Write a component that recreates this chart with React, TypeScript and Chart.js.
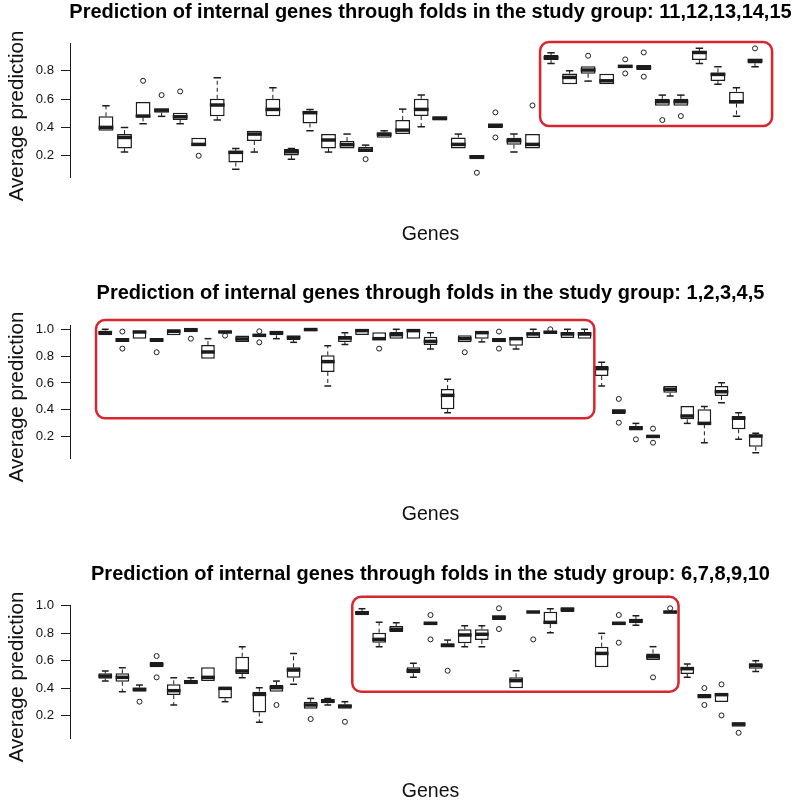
import React, { useEffect, useRef } from "react";
import { Chart, registerables } from "chart.js";

Chart.register(...registerables);

const FONT = "'Liberation Sans', Arial, Helvetica, sans-serif";
const INK = "#1c1c1c";
const RED = "#d8262f";

// ---------- Panel 1: study group 11,12,13,14,15 ----------
const p1Title = "Prediction of internal genes through folds in the study group: 11,12,13,14,15";
const p1Min = [0.376, 0.226, 0.426, 0.478, 0.426, 0.268, 0.452, 0.104, 0.226, 0.478, 0.176, 0.376, 0.226, 0.252, 0.226, 0.327, 0.353, 0.405, 0.449, 0.252, 0.176, 0.395, 0.226, 0.252, 0.852, 0.704, 0.727, 0.704, 0.819, 0.805, 0.553, 0.553, 0.852, 0.704, 0.478, 0.828];
const p1Q1 = [0.376, 0.252, 0.471, 0.504, 0.452, 0.268, 0.478, 0.153, 0.304, 0.478, 0.202, 0.428, 0.252, 0.252, 0.226, 0.327, 0.353, 0.48, 0.449, 0.252, 0.176, 0.395, 0.278, 0.252, 0.875, 0.704, 0.779, 0.704, 0.819, 0.805, 0.553, 0.553, 0.875, 0.727, 0.569, 0.852];
const p1Med = [0.4, 0.329, 0.48, 0.522, 0.475, 0.28, 0.558, 0.224, 0.353, 0.527, 0.228, 0.504, 0.311, 0.278, 0.24, 0.351, 0.381, 0.527, 0.464, 0.28, 0.193, 0.414, 0.306, 0.28, 0.892, 0.753, 0.805, 0.729, 0.831, 0.824, 0.581, 0.581, 0.929, 0.774, 0.581, 0.871];
const p1Q3 = [0.478, 0.353, 0.579, 0.534, 0.504, 0.327, 0.602, 0.235, 0.376, 0.602, 0.247, 0.515, 0.353, 0.304, 0.264, 0.365, 0.452, 0.602, 0.478, 0.329, 0.205, 0.428, 0.327, 0.353, 0.911, 0.781, 0.831, 0.779, 0.84, 0.84, 0.602, 0.602, 0.939, 0.788, 0.652, 0.887];
const p1Max = [0.553, 0.4, 0.579, 0.534, 0.504, 0.327, 0.75, 0.252, 0.376, 0.68, 0.252, 0.527, 0.353, 0.353, 0.275, 0.376, 0.529, 0.628, 0.478, 0.353, 0.205, 0.428, 0.353, 0.353, 0.927, 0.8, 0.831, 0.779, 0.84, 0.84, 0.628, 0.628, 0.958, 0.828, 0.68, 0.887];
const p1Out = [[], [], [0.729], [0.628], [0.654], [0.2], [], [], [], [], [], [], [], [], [0.176], [], [], [], [], [], [0.08], [0.506, 0.329], [], [0.555], [], [], [0.906], [], [0.88, 0.781], [0.929, 0.758], [0.452], [0.48], [], [], [], [0.958]];
const p1Ticks = [0.2, 0.4, 0.6, 0.8];

// ---------- Panel 2: study group 1,2,3,4,5 ----------
const p2Title = "Prediction of internal genes through folds in the study group: 1,2,3,4,5";
const p2Min = [0.955, 0.906, 0.93, 0.906, 0.955, 0.978, 0.781, 0.973, 0.906, 0.945, 0.93, 0.903, 0.985, 0.578, 0.886, 0.958, 0.92, 0.93, 0.93, 0.853, 0.379, 0.903, 0.906, 0.903, 0.853, 0.935, 0.97, 0.935, 0.93, 0.578, 0.369, 0.245, 0.19, 0.503, 0.299, 0.155, 0.453, 0.18, 0.081];
const p2Q1 = [0.955, 0.906, 0.93, 0.906, 0.955, 0.978, 0.781, 0.973, 0.906, 0.945, 0.955, 0.92, 0.985, 0.682, 0.906, 0.958, 0.92, 0.93, 0.93, 0.883, 0.404, 0.903, 0.93, 0.903, 0.878, 0.935, 0.97, 0.935, 0.93, 0.652, 0.369, 0.245, 0.19, 0.528, 0.329, 0.292, 0.503, 0.255, 0.125];
const p2Med = [0.975, 0.92, 0.98, 0.92, 0.985, 0.997, 0.831, 0.98, 0.928, 0.955, 0.975, 0.94, 0.998, 0.759, 0.935, 0.99, 0.93, 0.96, 0.99, 0.91, 0.508, 0.93, 0.975, 0.92, 0.93, 0.965, 0.978, 0.965, 0.965, 0.707, 0.389, 0.265, 0.202, 0.553, 0.354, 0.299, 0.535, 0.337, 0.205];
const p2Q3 = [0.99, 0.935, 0.99, 0.935, 1.0, 1.0, 0.883, 0.99, 0.953, 0.965, 0.985, 0.953, 1.0, 0.806, 0.95, 1.0, 0.978, 0.98, 1.0, 0.945, 0.555, 0.955, 0.985, 0.935, 0.935, 0.978, 0.985, 0.98, 0.98, 0.727, 0.404, 0.28, 0.21, 0.578, 0.429, 0.404, 0.578, 0.354, 0.212];
const p2Max = [1.0, 0.935, 0.99, 0.935, 1.0, 1.0, 0.93, 0.99, 0.953, 0.965, 0.985, 0.953, 1.0, 0.878, 0.975, 1.0, 0.978, 1.0, 1.0, 0.975, 0.627, 0.955, 0.985, 0.935, 0.935, 1.0, 0.985, 1.0, 1.0, 0.754, 0.404, 0.299, 0.21, 0.578, 0.429, 0.424, 0.602, 0.379, 0.225];
const p2Out = [[], [0.983, 0.856], [], [0.829], [], [0.93], [], [0.953], [], [0.985, 0.903], [], [], [], [], [], [], [0.856], [], [], [], [], [0.829], [], [0.983, 0.856], [], [], [1.0], [], [], [], [0.481, 0.304], [0.18], [0.26, 0.155], [], [], [], [], [], []];
const p2Ticks = [0.2, 0.4, 0.6, 0.8, 1.0];

// ---------- Panel 3: study group 6,7,8,9,10 ----------
const p3Title = "Prediction of internal genes through folds in the study group: 6,7,8,9,10";
const p3Min = [0.452, 0.375, 0.375, 0.552, 0.278, 0.428, 0.452, 0.302, 0.476, 0.152, 0.375, 0.428, 0.251, 0.278, 0.251, 0.93, 0.702, 0.808, 0.479, 0.857, 0.697, 0.702, 0.702, 0.896, 0.399, 0.949, 0.804, 0.954, null, 0.552, 0.857, 0.857, 0.605, 0.944, 0.479, 0.326, 0.299, 0.12, 0.522];
const p3Q1 = [0.469, 0.447, 0.375, 0.552, 0.35, 0.428, 0.452, 0.326, 0.503, 0.224, 0.375, 0.476, 0.251, 0.29, 0.251, 0.93, 0.731, 0.808, 0.508, 0.857, 0.697, 0.726, 0.75, 0.896, 0.399, 0.949, 0.867, 0.954, null, 0.552, 0.857, 0.872, 0.605, 0.944, 0.503, 0.326, 0.299, 0.12, 0.542];
const p3Med = [0.488, 0.479, 0.392, 0.571, 0.382, 0.445, 0.479, 0.399, 0.525, 0.355, 0.404, 0.532, 0.278, 0.307, 0.27, 0.949, 0.755, 0.828, 0.527, 0.872, 0.711, 0.787, 0.792, 0.915, 0.455, 0.954, 0.879, 0.973, null, 0.653, 0.872, 0.891, 0.629, 0.954, 0.542, 0.343, 0.353, 0.139, 0.566];
const p3Q3 = [0.508, 0.508, 0.404, 0.59, 0.428, 0.459, 0.552, 0.404, 0.629, 0.375, 0.423, 0.552, 0.302, 0.321, 0.282, 0.961, 0.804, 0.852, 0.552, 0.884, 0.726, 0.828, 0.828, 0.93, 0.479, 0.959, 0.956, 0.988, null, 0.702, 0.884, 0.905, 0.653, 0.959, 0.556, 0.358, 0.358, 0.152, 0.581];
const p3Max = [0.525, 0.549, 0.423, 0.59, 0.476, 0.476, 0.552, 0.404, 0.702, 0.404, 0.452, 0.653, 0.326, 0.326, 0.302, 0.978, 0.879, 0.876, 0.581, 0.884, 0.75, 0.855, 0.855, 0.93, 0.527, 0.959, 0.978, 0.988, null, 0.799, 0.884, 0.927, 0.702, 0.959, 0.576, 0.358, 0.358, 0.152, 0.6];
const p3Out = [[], [], [0.302], [0.634, 0.479], [], [], [], [], [], [], [0.278], [], [0.176], [], [0.156], [], [], [], [], [0.932, 0.755], [0.527], [], [], [0.981, 0.83], [], [0.755], [], [], [], [], [0.932, 0.731], [], [0.479], [0.981], [], [0.401, 0.278], [0.428, 0.202], [0.076], []];
const p3Ticks = [0.2, 0.4, 0.6, 0.8, 1.0];

type Num = number | null;
type Panel = {
  title: string;
  min: Num[]; q1: Num[]; med: Num[]; q3: Num[]; max: Num[]; out: number[][];
  ticks: number[];
  yMin: number; yMax: number;
  top: number; bottom: number;
  titleBase: number; genesBase: number; yLabelMid: number;
  highlight: { from: number; to: number; low: number; high: number };
};

const W = 798;
const H = 804;
const AREA_LEFT = 70;
const AREA_RIGHT = 791;

const panels: Panel[] = [
  {
    title: p1Title, min: p1Min, q1: p1Q1, med: p1Med, q3: p1Q3, max: p1Max, out: p1Out, ticks: p1Ticks,
    yMin: 0.045, yMax: 0.993, top: 43.4, bottom: 177.7,
    titleBase: 18, genesBase: 240, yLabelMid: 116,
    highlight: { from: 24.41, to: 36.92, low: 0.41, high: 1.0025 },
  },
  {
    title: p2Title, min: p2Min, q1: p2Q1, med: p2Med, q3: p2Q3, max: p2Max, out: p2Out, ticks: p2Ticks,
    yMin: 0.041, yMax: 1.032, top: 325, bottom: 458,
    titleBase: 299, genesBase: 520, yLabelMid: 397,
    highlight: { from: 0.46, to: 29.57, low: 0.337, high: 1.069 },
  },
  {
    title: p3Title, min: p3Min, q1: p3Q1, med: p3Med, q3: p3Q3, max: p3Max, out: p3Out, ticks: p3Ticks,
    yMin: 0.038, yMax: 1.005, top: 605, bottom: 738,
    titleBase: 580, genesBase: 797, yLabelMid: 677,
    highlight: { from: 15.43, to: 34.49, low: 0.375, high: 1.065 },
  },
];

function makePlugin(p: Panel) {
  return {
    id: "boxplotExtras",
    afterDatasetsDraw(chart: any) {
      const { ctx } = chart;
      const x = chart.scales.x;
      const y = chart.scales.y;
      const unit = x.getPixelForValue(1) - x.getPixelForValue(0);
      const bw = unit * 0.8;
      ctx.save();
      ctx.strokeStyle = INK;
      p.med.forEach((m, i) => {
        if (m == null) return;
        const cx = x.getPixelForValue(i + 1);
        const q1 = p.q1[i] as number, q3 = p.q3[i] as number;
        const lo = p.min[i] as number, hi = p.max[i] as number;
        // whiskers
        ctx.lineWidth = 1;
        ctx.setLineDash([4, 3]);
        ctx.beginPath();
        if (hi > q3) { ctx.moveTo(cx, y.getPixelForValue(q3)); ctx.lineTo(cx, y.getPixelForValue(hi)); }
        if (lo < q1) { ctx.moveTo(cx, y.getPixelForValue(q1)); ctx.lineTo(cx, y.getPixelForValue(lo)); }
        ctx.stroke();
        ctx.setLineDash([]);
        // staples
        ctx.lineWidth = 1.5;
        ctx.beginPath();
        if (hi > q3) { const py = y.getPixelForValue(hi); ctx.moveTo(cx - bw / 4, py); ctx.lineTo(cx + bw / 4, py); }
        if (lo < q1) { const py = y.getPixelForValue(lo); ctx.moveTo(cx - bw / 4, py); ctx.lineTo(cx + bw / 4, py); }
        ctx.stroke();
        // median
        ctx.lineWidth = 3.5;
        ctx.beginPath();
        const my = y.getPixelForValue(m);
        ctx.moveTo(cx - bw / 2, my);
        ctx.lineTo(cx + bw / 2, my);
        ctx.stroke();
      });
      ctx.restore();
    },
    afterDraw(chart: any) {
      const { ctx, chartArea } = chart;
      const x = chart.scales.x;
      const y = chart.scales.y;
      ctx.save();
      // highlight rectangle
      const h = p.highlight;
      const l = x.getPixelForValue(h.from), r = x.getPixelForValue(h.to);
      const t = y.getPixelForValue(h.high), b = y.getPixelForValue(h.low);
      ctx.strokeStyle = RED;
      ctx.lineWidth = 2.5;
      ctx.beginPath();
      ctx.roundRect(l, t, r - l, b - t, 9);
      ctx.stroke();
      // texts
      const cx = (chartArea.left + chartArea.right) / 2;
      ctx.fillStyle = "#000";
      ctx.textAlign = "center";
      ctx.textBaseline = "alphabetic";
      ctx.font = `bold 20px ${FONT}`;
      ctx.fillText(p.title, cx, p.titleBase);
      ctx.fillStyle = "#111";
      ctx.font = `19.5px ${FONT}`;
      ctx.fillText("Genes", cx, p.genesBase);
      ctx.translate(22.5, p.yLabelMid);
      ctx.rotate(-Math.PI / 2);
      ctx.font = `20.5px ${FONT}`;
      ctx.fillText("Average prediction", 0, 0);
      ctx.restore();
    },
  };
}

function makeConfig(p: Panel): any {
  const n = p.med.length;
  const genes = p.med.map((_, i) => i + 1);
  const boxes = genes
    .map((g, i) => (p.q1[i] == null ? null : { x: g, y: [p.q1[i], p.q3[i]] }))
    .filter((d) => d != null);
  const outliers: { x: number; y: number }[] = [];
  p.out.forEach((arr, i) => arr.forEach((v) => outliers.push({ x: genes[i], y: v })));
  return {
    type: "bar",
    data: {
      datasets: [
        {
          type: "bar",
          data: boxes,
          backgroundColor: "#ffffff",
          borderColor: INK,
          borderWidth: 1.5,
          borderSkipped: false,
          barPercentage: 0.8,
          categoryPercentage: 1,
        },
        {
          type: "scatter",
          data: outliers,
          pointStyle: "circle",
          pointRadius: 2.5,
          pointBorderWidth: 1,
          pointBackgroundColor: "rgba(255,255,255,0)",
          pointBorderColor: INK,
        },
      ],
    },
    options: {
      responsive: false,
      animation: false,
      events: [],
      layout: { padding: { top: p.top, bottom: H - p.bottom, left: 0, right: W - AREA_RIGHT } },
      plugins: { legend: { display: false }, title: { display: false }, tooltip: { enabled: false } },
      scales: {
        x: {
          type: "linear",
          display: false,
          min: 0.5 - 0.04 * n,
          max: n + 0.5 + 0.04 * n,
          offset: false,
        },
        y: {
          type: "linear",
          min: p.yMin,
          max: p.yMax,
          afterBuildTicks: (scale: any) => {
            scale.ticks = p.ticks.map((v) => ({ value: v }));
          },
          afterFit: (scale: any) => {
            scale.width = AREA_LEFT;
          },
          ticks: {
            callback: (v: number) => v.toFixed(1),
            color: "#111",
            font: { family: FONT, size: 13.2 },
            padding: 7,
          },
          grid: { drawOnChartArea: false, drawTicks: true, tickLength: 9, color: INK, lineWidth: 1 },
          border: { display: true, color: INK, width: 1 },
        },
      },
    },
    plugins: [makePlugin(p)],
  };
}

function PanelChart({ panel }: { panel: Panel }) {
  const ref = useRef<HTMLCanvasElement>(null);
  useEffect(() => {
    const chart = new Chart(ref.current as HTMLCanvasElement, makeConfig(panel));
    return () => chart.destroy();
  }, [panel]);
  return (
    <canvas
      ref={ref}
      width={W}
      height={H}
      style={{ position: "absolute", left: 0, top: 0, width: W, height: H }}
    />
  );
}

export default function App() {
  return (
    <div style={{ position: "fixed", left: 0, top: 0, width: W, height: H, background: "#ffffff" }}>
      {panels.map((p, i) => (
        <PanelChart key={i} panel={p} />
      ))}
    </div>
  );
}
